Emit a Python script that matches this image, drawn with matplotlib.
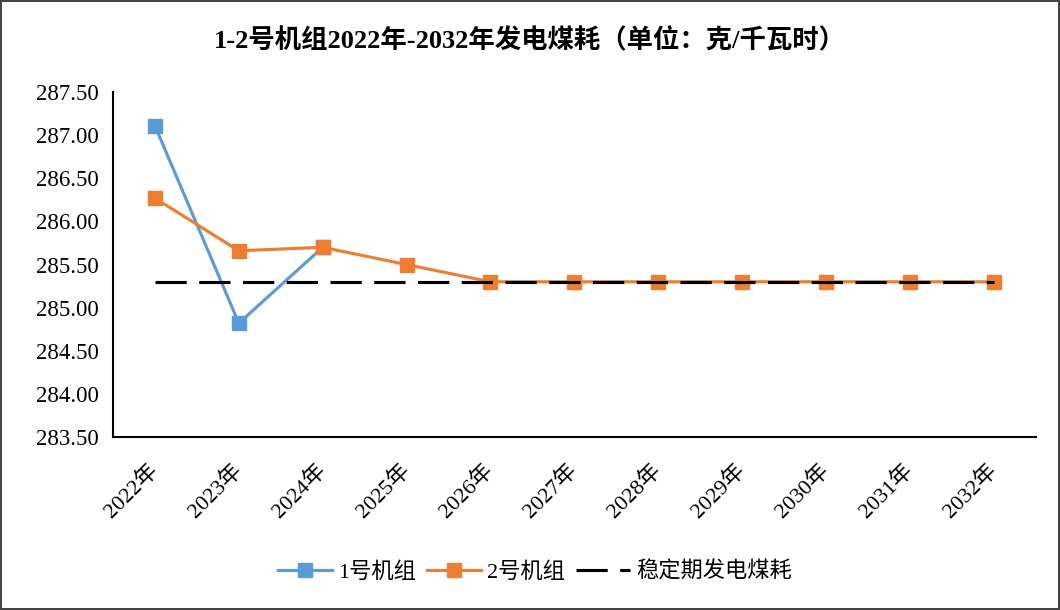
import matplotlib
matplotlib.use('Agg')
import matplotlib.pyplot as plt

plt.rcParams['font.family'] = ['Liberation Serif', 'Noto Sans CJK SC']

# 数据
years = ['2022年', '2023年', '2024年', '2025年', '2026年', '2027年',
         '2028年', '2029年', '2030年', '2031年', '2032年']
unit1 = [287.11, 284.82, 285.70]
unit2 = [286.27, 285.66, 285.70, 285.50, 285.30, 285.30,
         285.30, 285.30, 285.30, 285.30, 285.30]
stable = [285.30] * len(years)
yticks = [283.5, 284.0, 284.5, 285.0, 285.5, 286.0, 286.5, 287.0, 287.5]

fig = plt.figure(figsize=(10.6, 6.1), dpi=100, edgecolor='#444444', linewidth=1.5)
ax = fig.add_axes([0.1066, 0.2836, 0.8704, 0.5654])

x = list(range(len(years)))
ax.plot(x[:len(unit1)], unit1, 's-', color='#5B9BD5', lw=2.25, ms=10, label='1号机组', zorder=3)
ax.plot(x, unit2, 's-', color='#ED7D31', lw=2.25, ms=10, label='2号机组', zorder=3)
ax.plot(x, stable, color='black', lw=2.25, dashes=(10, 4), label='稳定期发电煤耗', zorder=4)

ax.set_xlim(-0.5, len(years) - 0.5)
ax.set_ylim(283.5, 287.5)
ax.set_yticks(yticks)
ax.set_yticklabels(['%.2f' % v for v in yticks], fontsize=16.5)
ax.set_xticks(x)
ax.set_xticklabels(years, fontsize=16, rotation=45, ha='right', va='center',
                   rotation_mode='anchor')
ax.tick_params(axis='both', length=0)
ax.tick_params(axis='x', pad=22)
ax.tick_params(axis='y', pad=10)

for s in ['top', 'right']:
    ax.spines[s].set_visible(False)
ax.spines['left'].set_linewidth(1.5)
ax.spines['bottom'].set_linewidth(1.5)

fig.suptitle('1-2号机组2022年-2032年发电煤耗（单位：克/千瓦时）',
             fontsize=19, fontweight='bold', x=0.5, y=0.955)

fig.legend(loc='center', bbox_to_anchor=(0.505, 0.062), ncol=3, frameon=False,
           fontsize=16, handlelength=2.4, columnspacing=0.5, handletextpad=0.3)

fig.savefig('out.png', dpi=100, edgecolor=fig.get_edgecolor())
